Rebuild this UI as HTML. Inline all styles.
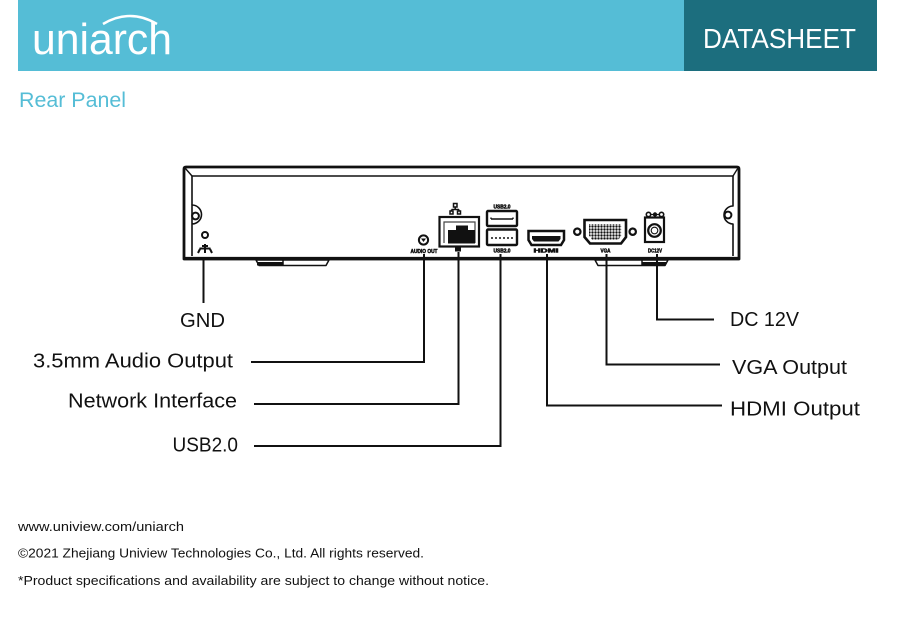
<!DOCTYPE html>
<html><head><meta charset="utf-8"><style>
html,body{margin:0;padding:0;background:#fff;}
svg{display:block;}
text{font-family:"Liberation Sans",sans-serif;}
</style></head><body>
<svg width="900" height="620" viewBox="0 0 900 620" xmlns="http://www.w3.org/2000/svg">
<defs>
<pattern id="pins" x="0" y="0" width="3" height="3" patternUnits="userSpaceOnUse">
<rect width="3" height="3" fill="#fff"/>
<circle cx="1.5" cy="1.5" r="1.2" fill="#111"/>
</pattern>
</defs>
<!-- header -->
<rect x="18" y="0" width="667" height="71" fill="#55bdd6"/>
<rect x="684" y="0" width="193" height="71" fill="#1c6e7e"/>
<text x="32" y="54" font-size="44" fill="#fff" textLength="140" lengthAdjust="spacingAndGlyphs">uniarch</text>
<path d="M103,24 Q130,8 157,24" fill="none" stroke="#fff" stroke-width="2.5"/>
<text x="703" y="48" font-size="28" fill="#fff" textLength="153" lengthAdjust="spacingAndGlyphs">DATASHEET</text>
<text x="19" y="107" font-size="21" fill="#55bdd6" textLength="107" lengthAdjust="spacingAndGlyphs">Rear Panel</text>

<!-- device chassis -->
<g fill="none" stroke="#111" stroke-linejoin="round">
<path d="M184,259 L184,169 Q184,167 186,167 L737,167 Q739,167 739,169 L739,259 Z" stroke-width="2.8"/>
<path d="M192,256 L192,205 A9,9 0 0 1 192,224 L192,256" stroke-width="1.6"/>
<path d="M192,205 L192,176 L733,176 L733,206 A9,9 0 0 0 733,224 L733,256" stroke-width="1.6"/>
<line x1="185" y1="168" x2="192" y2="176" stroke-width="1.4"/>
<line x1="738" y1="168" x2="733" y2="176" stroke-width="1.4"/>
<circle cx="195.5" cy="216" r="3.4" stroke-width="2"/>
<circle cx="728" cy="215" r="3.4" stroke-width="2"/>
<!-- feet -->
<path d="M256,260 L329,260 L326,265.5 L259,265.5 Z" stroke-width="1.5"/>
<line x1="283" y1="260" x2="283" y2="265.5" stroke-width="1.5"/>
<path d="M595,260 L668,260 L665,265.5 L598,265.5 Z" stroke-width="1.5"/>
<line x1="642" y1="260" x2="642" y2="265.5" stroke-width="1.5"/>
</g>
<line x1="184" y1="258.5" x2="739" y2="258.5" stroke="#111" stroke-width="3.2"/>
<rect x="257" y="262" width="26" height="3.5" fill="#111"/>
<rect x="642" y="262" width="24" height="3.5" fill="#111"/>

<!-- GND -->
<circle cx="205" cy="235" r="3" fill="none" stroke="#111" stroke-width="2"/>
<path d="M205,244 L205,248 M199.5,248.5 L210.5,248.5 M200,249 L198,253 M205,249 L205,253 M210,249 L212,253 M202,246 L208,246" stroke="#111" stroke-width="2" fill="none"/>

<!-- Audio out -->
<circle cx="423.5" cy="240" r="4.6" fill="none" stroke="#111" stroke-width="2"/>
<path d="M421,238.5 L426,238.5 L423.5,242 Z" fill="#111"/>
<g font-weight="bold" text-anchor="middle" fill="#111" stroke="#111" stroke-width="0.5">
<text x="424" y="253" font-size="5" textLength="27" lengthAdjust="spacingAndGlyphs">AUDIO OUT</text>
<text x="502" y="208.5" font-size="5" textLength="17" lengthAdjust="spacingAndGlyphs">USB2.0</text>
<text x="502" y="252.5" font-size="5" textLength="17" lengthAdjust="spacingAndGlyphs">USB2.0</text>
<text x="546" y="252.5" font-size="5.5" textLength="25" lengthAdjust="spacingAndGlyphs">HDMI</text>
<text x="605.5" y="252.5" font-size="5.5" textLength="10" lengthAdjust="spacingAndGlyphs">VGA</text>
<text x="655" y="252.5" font-size="5.3" textLength="14" lengthAdjust="spacingAndGlyphs">DC12V</text>
</g>

<!-- RJ45 -->
<rect x="439.5" y="217" width="39.5" height="29.5" fill="none" stroke="#111" stroke-width="2.2"/>
<path d="M444,243 L444,222 L475,222 L475,243" fill="none" stroke="#444" stroke-width="1.2"/>
<rect x="448" y="230" width="27" height="13.5" fill="#111"/>
<rect x="456" y="225.5" width="12" height="5" fill="#111"/>
<rect x="455" y="247" width="6" height="4.5" fill="#111"/>
<g fill="none" stroke="#111" stroke-width="1.5">
<rect x="453.5" y="203.5" width="3.5" height="3.5"/>
<path d="M455.2,207 L455.2,209.5 M451.5,209.5 L459,209.5 M451.5,209.5 L451.5,211 M459,209.5 L459,211"/>
<rect x="450" y="211" width="3" height="3"/>
<rect x="457.5" y="211" width="3" height="3"/>
</g>

<!-- USB -->
<rect x="487" y="211" width="30" height="15" rx="1" fill="none" stroke="#111" stroke-width="2.4"/>
<path d="M491,219 L513,219 M491,217.5 L491,219 M513,217.5 L513,219" stroke="#111" stroke-width="1.4" fill="none"/>
<rect x="487" y="229.5" width="30" height="15.5" rx="1" fill="none" stroke="#111" stroke-width="2.4"/>
<path d="M491,238 L513,238" stroke="#111" stroke-width="1.4" stroke-dasharray="2,2" fill="none"/>

<!-- HDMI -->
<path d="M528.5,231 L564,231 L564,240 L561,245 L531.5,245 L528.5,240 Z" fill="none" stroke="#111" stroke-width="2.5"/>
<path d="M532,236 L560.5,236 L560.5,239 L558.5,241.5 L534,241.5 L532,239 Z" fill="#111"/>

<!-- VGA -->
<circle cx="577.3" cy="231.7" r="3.2" fill="none" stroke="#111" stroke-width="2.2"/>
<circle cx="632.7" cy="231.7" r="3.2" fill="none" stroke="#111" stroke-width="2.2"/>
<path d="M584.5,220 L626,220 L626,237 L621,243.5 L590,243.5 L584.5,237 Z" fill="none" stroke="#111" stroke-width="2.6"/>
<path d="M589,224 L621.5,224 L621.5,235.5 L618.5,239.5 L592,239.5 L589,235.5 Z" fill="url(#pins)"/>

<!-- DC -->
<circle cx="648.5" cy="214.5" r="2.2" fill="none" stroke="#111" stroke-width="1.6"/>
<circle cx="655" cy="214.5" r="2.2" fill="#111"/>
<circle cx="661.5" cy="214.5" r="2.2" fill="none" stroke="#111" stroke-width="1.6"/>
<line x1="650.5" y1="214.5" x2="659.5" y2="214.5" stroke="#111" stroke-width="1.2"/>
<rect x="645" y="217.5" width="19" height="24.5" fill="none" stroke="#111" stroke-width="2.2"/>
<circle cx="654.5" cy="230.5" r="6.3" fill="none" stroke="#111" stroke-width="2.2"/>
<circle cx="654.5" cy="230.5" r="3.3" fill="none" stroke="#111" stroke-width="1.1"/>

<!-- connectors -->
<g fill="none" stroke="#111" stroke-width="2">
<path d="M203.5,257 L203.5,303"/>
<path d="M424,254 L424,362 L251,362"/>
<path d="M458.5,252 L458.5,404 L254,404"/>
<path d="M500.5,254 L500.5,446 L254,446"/>
<path d="M547,254 L547,405.5 L722,405.5"/>
<path d="M606.5,254 L606.5,364.5 L720,364.5"/>
<path d="M657,254 L657,319.5 L714,319.5"/>
</g>

<!-- labels -->
<g font-size="20" fill="#111">
<text x="180" y="327" textLength="45" lengthAdjust="spacingAndGlyphs">GND</text>
<text x="33" y="367.5" textLength="200" lengthAdjust="spacingAndGlyphs">3.5mm Audio Output</text>
<text x="68" y="407.3" textLength="169" lengthAdjust="spacingAndGlyphs">Network Interface</text>
<text x="172.5" y="451.7" textLength="65.5" lengthAdjust="spacingAndGlyphs">USB2.0</text>
<text x="730" y="326" textLength="69" lengthAdjust="spacingAndGlyphs">DC 12V</text>
<text x="732" y="374" textLength="115" lengthAdjust="spacingAndGlyphs">VGA Output</text>
<text x="730" y="415.7" textLength="130" lengthAdjust="spacingAndGlyphs">HDMI Output</text>
</g>

<!-- footer -->
<g font-size="13" fill="#111">
<text x="18" y="531" textLength="166" lengthAdjust="spacingAndGlyphs">www.uniview.com/uniarch</text>
<text x="18" y="557.7" textLength="406" lengthAdjust="spacingAndGlyphs">©2021 Zhejiang Uniview Technologies Co., Ltd. All rights reserved.</text>
<text x="18" y="585" textLength="471" lengthAdjust="spacingAndGlyphs">*Product specifications and availability are subject to change without notice.</text>
</g>
</svg>
</body></html>
